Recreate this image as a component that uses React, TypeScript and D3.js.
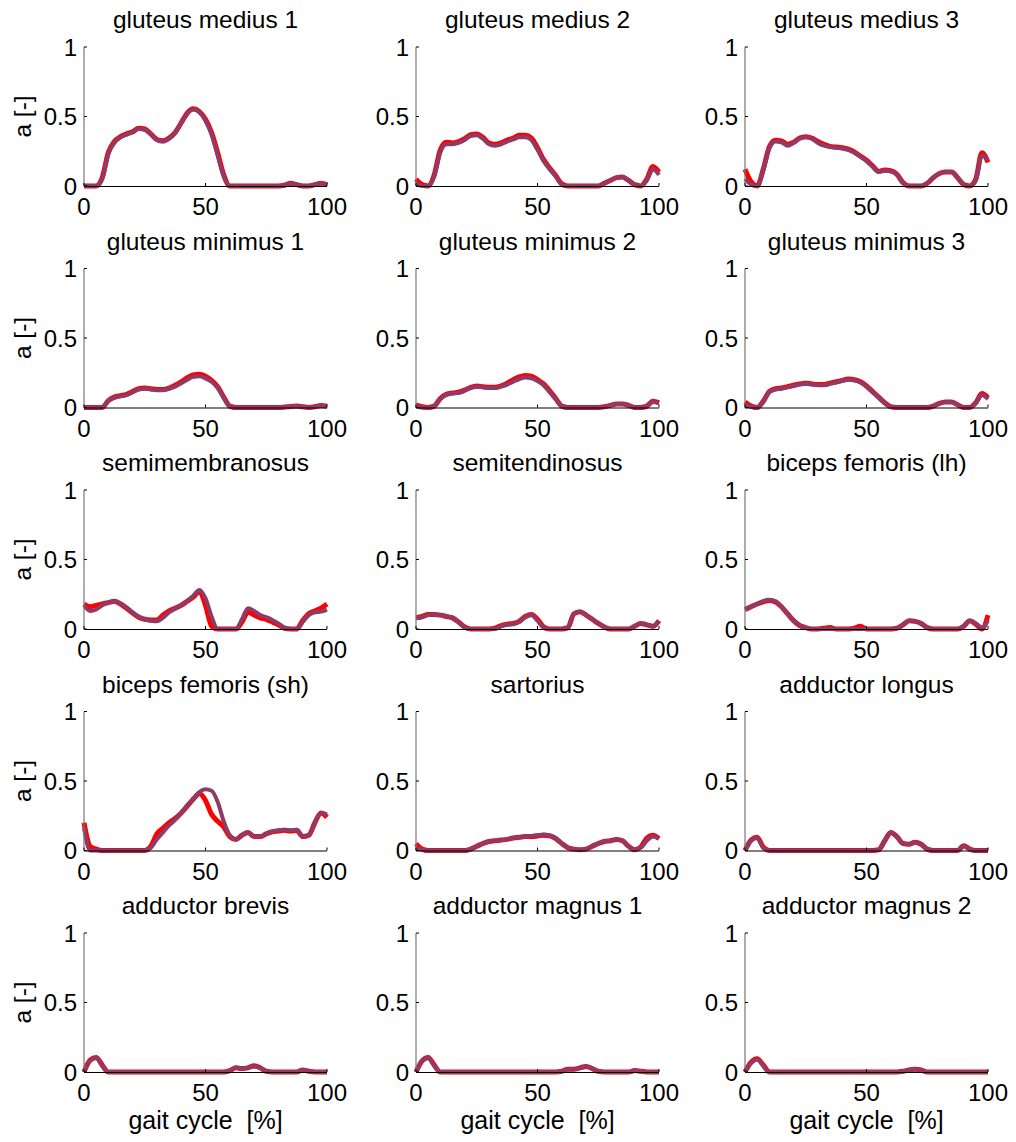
import React from 'react';
import * as d3 from 'd3';

const gaitPct = [0, 2.5, 5, 7.5, 10, 12.5, 15, 17.5, 20, 22.5, 25, 27.5, 30, 32.5, 35, 37.5, 40, 42.5, 45, 47.5, 50, 52.5, 55, 57.5, 60, 62.5, 65, 67.5, 70, 72.5, 75, 77.5, 80, 82.5, 85, 87.5, 90, 92.5, 95, 97.5, 100];

const muscleNames = [
  'gluteus medius 1', 'gluteus medius 2', 'gluteus medius 3',
  'gluteus minimus 1', 'gluteus minimus 2', 'gluteus minimus 3',
  'semimembranosus', 'semitendinosus', 'biceps femoris (lh)',
  'biceps femoris (sh)', 'sartorius', 'adductor longus',
  'adductor brevis', 'adductor magnus 1', 'adductor magnus 2',
];

const yTicks = [0, 0.5, 1];
const xTicks = [0, 50, 100];
const yLabel = 'a [-]';
const xLabel = 'gait cycle  [%]';

// series A (red) and series B (purple), one pair per muscle
const gmed1Red = [0,0,0,0.06,0.24,0.32,0.355,0.375,0.39,0.415,0.41,0.375,0.335,0.325,0.345,0.385,0.455,0.525,0.555,0.535,0.48,0.385,0.24,0.08,0,0,0,0,0,0,0,0,0,0.005,0.02,0.01,0,0,0.01,0.02,0.01];
const gmed1Pur = [0,0,0,0.05,0.23,0.31,0.35,0.37,0.385,0.41,0.405,0.37,0.33,0.32,0.34,0.38,0.45,0.52,0.55,0.53,0.47,0.37,0.22,0.07,0,0,0,0,0,0,0,0,0,0.005,0.02,0.01,0,0,0.01,0.02,0.01];
const gmed2Red = [0.05,0.01,0,0.08,0.26,0.315,0.31,0.32,0.34,0.37,0.375,0.35,0.31,0.3,0.31,0.33,0.345,0.365,0.365,0.345,0.275,0.19,0.13,0.075,0.015,0,0,0,0,0,0,0.02,0.04,0.06,0.065,0.04,0.01,0,0.05,0.14,0.1];
const gmed2Pur = [0.02,0,0,0.07,0.24,0.3,0.3,0.31,0.33,0.36,0.365,0.34,0.3,0.29,0.3,0.32,0.335,0.35,0.35,0.33,0.26,0.18,0.12,0.07,0.01,0,0,0,0,0,0,0.02,0.04,0.06,0.065,0.04,0.01,0,0.04,0.12,0.08];
const gmed3Red = [0.12,0.03,0,0.12,0.28,0.33,0.325,0.3,0.315,0.345,0.355,0.345,0.32,0.3,0.285,0.28,0.275,0.265,0.245,0.215,0.185,0.145,0.105,0.115,0.11,0.085,0.025,0,0,0,0.02,0.06,0.09,0.1,0.1,0.06,0.01,0,0.05,0.24,0.17];
const gmed3Pur = [0.05,0.01,0,0.11,0.27,0.32,0.315,0.29,0.31,0.34,0.35,0.34,0.31,0.29,0.28,0.275,0.27,0.26,0.24,0.21,0.18,0.14,0.1,0.11,0.105,0.08,0.02,0,0,0,0.02,0.06,0.09,0.1,0.1,0.06,0.01,0,0.04,0.22,0.19];
const gmin1Red = [0,0,0,0,0.05,0.075,0.085,0.095,0.115,0.135,0.14,0.135,0.13,0.13,0.14,0.16,0.185,0.215,0.235,0.24,0.225,0.195,0.15,0.075,0.01,0,0,0,0,0,0,0,0,0.003,0.008,0.01,0.005,0,0.005,0.015,0.01];
const gmin1Pur = [0,0,0,0,0.05,0.07,0.08,0.09,0.11,0.13,0.135,0.13,0.125,0.125,0.135,0.15,0.175,0.2,0.22,0.225,0.21,0.185,0.14,0.07,0.01,0,0,0,0,0,0,0,0,0.003,0.008,0.01,0.005,0,0.005,0.015,0.01];
const gmin2Red = [0.02,0.005,0,0.01,0.065,0.095,0.105,0.11,0.125,0.145,0.155,0.15,0.145,0.145,0.155,0.175,0.2,0.22,0.23,0.225,0.2,0.17,0.12,0.065,0.01,0,0,0,0,0,0,0.005,0.015,0.025,0.025,0.015,0,0,0.01,0.045,0.035];
const gmin2Pur = [0.01,0,0,0.01,0.06,0.09,0.1,0.105,0.12,0.14,0.15,0.145,0.14,0.14,0.15,0.165,0.185,0.205,0.215,0.21,0.19,0.16,0.11,0.06,0.01,0,0,0,0,0,0,0.005,0.015,0.025,0.025,0.015,0,0,0.01,0.04,0.03];
const gmin3Red = [0.04,0.01,0,0.045,0.115,0.135,0.14,0.15,0.16,0.17,0.175,0.17,0.165,0.165,0.175,0.185,0.195,0.205,0.2,0.185,0.155,0.115,0.075,0.035,0.005,0,0,0,0,0,0,0.01,0.03,0.04,0.04,0.02,0,0,0.035,0.1,0.07];
const gmin3Pur = [0.02,0.005,0,0.04,0.11,0.13,0.135,0.145,0.155,0.165,0.17,0.165,0.16,0.16,0.17,0.18,0.19,0.2,0.195,0.18,0.15,0.11,0.07,0.03,0.005,0,0,0,0,0,0,0.01,0.03,0.04,0.04,0.02,0,0,0.03,0.09,0.06];
const semimemRed = [0.18,0.16,0.17,0.18,0.19,0.2,0.18,0.15,0.115,0.085,0.07,0.065,0.065,0.1,0.13,0.15,0.17,0.2,0.23,0.27,0.17,0.02,0,0,0,0,0.05,0.12,0.1,0.08,0.07,0.05,0.03,0.005,0,0,0.06,0.11,0.13,0.15,0.18];
const semimemPur = [0.17,0.13,0.14,0.17,0.19,0.2,0.185,0.155,0.12,0.09,0.07,0.06,0.055,0.08,0.12,0.145,0.17,0.2,0.24,0.28,0.22,0.09,0,0,0,0,0.07,0.15,0.13,0.1,0.085,0.065,0.04,0.01,0,0,0.05,0.1,0.12,0.125,0.14];
const semitenRed = [0.08,0.09,0.105,0.105,0.1,0.09,0.08,0.05,0.015,0,0,0,0,0.005,0.025,0.035,0.04,0.055,0.09,0.105,0.07,0.015,0,0,0,0.01,0.11,0.125,0.1,0.07,0.04,0.015,0,0,0,0,0.02,0.04,0.03,0.02,0.06];
const semitenPur = [0.08,0.085,0.1,0.105,0.1,0.09,0.08,0.05,0.01,0,0,0,0,0,0.02,0.03,0.035,0.05,0.085,0.1,0.06,0.01,0,0,0,0.01,0.11,0.125,0.1,0.07,0.04,0.015,0,0,0,0,0.02,0.04,0.03,0.02,0.06];
const bflhRed = [0.14,0.16,0.18,0.195,0.205,0.195,0.16,0.11,0.06,0.025,0.01,0,0,0.005,0.01,0,0,0,0.005,0.02,0,0,0,0,0,0.005,0.03,0.06,0.055,0.04,0.01,0,0,0,0,0,0.02,0.06,0.035,0,0.1];
const bflhPur = [0.14,0.16,0.18,0.2,0.21,0.2,0.16,0.11,0.06,0.025,0.01,0,0,0,0,0,0,0,0,0,0,0,0,0,0,0.005,0.03,0.06,0.055,0.04,0.01,0,0,0,0,0,0.02,0.06,0.04,0.01,0.06];
const bfshRed = [0.2,0.03,0.01,0,0,0,0,0,0,0,0,0.03,0.12,0.16,0.2,0.23,0.27,0.32,0.37,0.41,0.36,0.26,0.21,0.17,0.1,0.08,0.11,0.13,0.1,0.1,0.12,0.135,0.14,0.145,0.14,0.145,0.1,0.11,0.2,0.27,0.24];
const bfshPur = [0.16,0,0,0,0,0,0,0,0,0,0,0.02,0.08,0.13,0.18,0.22,0.27,0.32,0.37,0.42,0.44,0.43,0.35,0.21,0.11,0.08,0.11,0.13,0.1,0.1,0.12,0.135,0.145,0.15,0.145,0.15,0.1,0.11,0.2,0.27,0.26];
const sartRed = [0.05,0.01,0,0,0,0,0,0,0,0.01,0.03,0.05,0.065,0.07,0.075,0.08,0.09,0.095,0.1,0.1,0.105,0.11,0.105,0.085,0.05,0.02,0.01,0.005,0.01,0.03,0.05,0.065,0.07,0.08,0.07,0.03,0.005,0.025,0.09,0.11,0.085];
const sartPur = [0.02,0.005,0,0,0,0,0,0,0,0.01,0.03,0.05,0.065,0.07,0.075,0.08,0.09,0.095,0.1,0.105,0.11,0.115,0.11,0.09,0.05,0.02,0.01,0.005,0.01,0.03,0.05,0.065,0.07,0.08,0.07,0.03,0.005,0.02,0.07,0.1,0.085];
const addlongRed = [0,0.075,0.095,0.025,0,0,0,0,0,0,0,0,0,0,0,0,0,0,0,0,0,0,0.005,0.07,0.13,0.1,0.05,0.045,0.06,0.045,0.01,0,0,0,0,0,0.035,0.01,0,0,0];
const addlongPur = [0,0.07,0.09,0.02,0,0,0,0,0,0,0,0,0,0,0,0,0,0,0,0,0,0,0.005,0.07,0.13,0.1,0.05,0.045,0.06,0.045,0.01,0,0,0,0,0,0.03,0.01,0,0,0];
const addbrevRed = [0,0.085,0.105,0.05,0,0,0,0,0,0,0,0,0,0,0,0,0,0,0,0,0,0,0,0,0.01,0.03,0.025,0.03,0.045,0.03,0.005,0,0,0,0,0,0.015,0.005,0,0,0];
const addbrevPur = [0,0.08,0.1,0.045,0,0,0,0,0,0,0,0,0,0,0,0,0,0,0,0,0,0,0,0,0.01,0.03,0.025,0.03,0.04,0.03,0.005,0,0,0,0,0,0.015,0.005,0,0,0];
const addmag1Red = [0,0.08,0.105,0.05,0,0,0,0,0,0,0,0,0,0,0,0,0,0,0,0,0,0,0,0,0.005,0.02,0.02,0.03,0.04,0.025,0.005,0,0,0,0,0,0.01,0.005,0,0,0];
const addmag1Pur = [0,0.08,0.1,0.045,0,0,0,0,0,0,0,0,0,0,0,0,0,0,0,0,0,0,0,0,0.005,0.02,0.02,0.03,0.04,0.025,0.005,0,0,0,0,0,0.01,0.005,0,0,0];
const addmag2Red = [0,0.07,0.095,0.05,0,0,0,0,0,0,0,0,0,0,0,0,0,0,0,0,0,0,0,0,0,0,0.005,0.015,0.02,0.015,0,0,0,0,0,0,0,0,0,0,0];
const addmag2Pur = [0,0.065,0.09,0.045,0,0,0,0,0,0,0,0,0,0,0,0,0,0,0,0,0,0,0,0,0,0,0.005,0.015,0.02,0.015,0,0,0,0,0,0,0,0,0,0,0];

const redSeries = [gmed1Red, gmed2Red, gmed3Red, gmin1Red, gmin2Red, gmin3Red, semimemRed, semitenRed, bflhRed, bfshRed, sartRed, addlongRed, addbrevRed, addmag1Red, addmag2Red];
const purSeries = [gmed1Pur, gmed2Pur, gmed3Pur, gmin1Pur, gmin2Pur, gmin3Pur, semimemPur, semitenPur, bflhPur, bfshPur, sartPur, addlongPur, addbrevPur, addmag1Pur, addmag2Pur];

const colLeft = [84, 416, 745];
const rowTop = [47, 268.5, 490, 711.5, 933];
const plotW = 243;
const plotH = 139;
const FONT = '"Liberation Sans", Arial, Helvetica, sans-serif';
const RED = '#ff0000';
const PURPLE = '#903a68';

function Panel({ idx }: { idx: number }) {
  const col = idx % 3;
  const row = Math.floor(idx / 3);
  const left = colLeft[col];
  const top = rowTop[row];
  const x = d3.scaleLinear().domain([0, 100]).range([0, plotW]);
  const y = d3.scaleLinear().domain([0, 1]).range([plotH, 0]);
  const line = d3.line<number>()
    .x((_, i) => x(gaitPct[i]))
    .y((d) => y(d))
    .curve(d3.curveMonotoneX);
  return (
    <g transform={`translate(${left},${top})`}>
      <text x={plotW / 2} y={-19} textAnchor="middle" fontSize={24.5} fontFamily={FONT} fill="#000">
        {muscleNames[idx]}
      </text>
      <path d={line(redSeries[idx]) || ''} fill="none" stroke={RED} strokeWidth={5} strokeLinejoin="round" />
      <path d={line(purSeries[idx]) || ''} fill="none" stroke={PURPLE} strokeWidth={4} strokeLinejoin="round" />
      <line x1={0} x2={0} y1={0} y2={plotH} stroke="#777" strokeWidth={1.2} />
      <line x1={0} x2={plotW} y1={plotH + 0.5} y2={plotH + 0.5} stroke="#000" strokeWidth={1} />
      {yTicks.map((t) => (
        <g key={'y' + t}>
          <line x1={0} x2={3} y1={y(t)} y2={y(t)} stroke="#000" strokeWidth={1} />
          <text x={-7} y={y(t) + 8.5} textAnchor="end" fontSize={24} fontFamily={FONT} fill="#000">{t}</text>
        </g>
      ))}
      {xTicks.map((t) => (
        <g key={'x' + t}>
          <line x1={x(t)} x2={x(t)} y1={plotH} y2={plotH - 3} stroke="#000" strokeWidth={1} />
          <text x={x(t)} y={plotH + 29} textAnchor="middle" fontSize={24} fontFamily={FONT} fill="#000">{t}</text>
        </g>
      ))}
      {col === 0 && (
        <text transform={`translate(${-53},${plotH / 2}) rotate(-90)`} textAnchor="middle" fontSize={24.5} fontFamily={FONT} fill="#000">{yLabel}</text>
      )}
      {row === 4 && (
        <text x={plotW / 2} y={plotH + 57} textAnchor="middle" fontSize={25} fontFamily={FONT} fill="#000" style={{ whiteSpace: 'pre' }}>{xLabel}</text>
      )}
    </g>
  );
}

export default function App() {
  return (
    <svg width={1016} height={1142} style={{ position: 'absolute', left: 0, top: 0, background: '#fff' }}>
      <rect width={1016} height={1142} fill="#fff" />
      {muscleNames.map((_, i) => <Panel key={i} idx={i} />)}
    </svg>
  );
}
